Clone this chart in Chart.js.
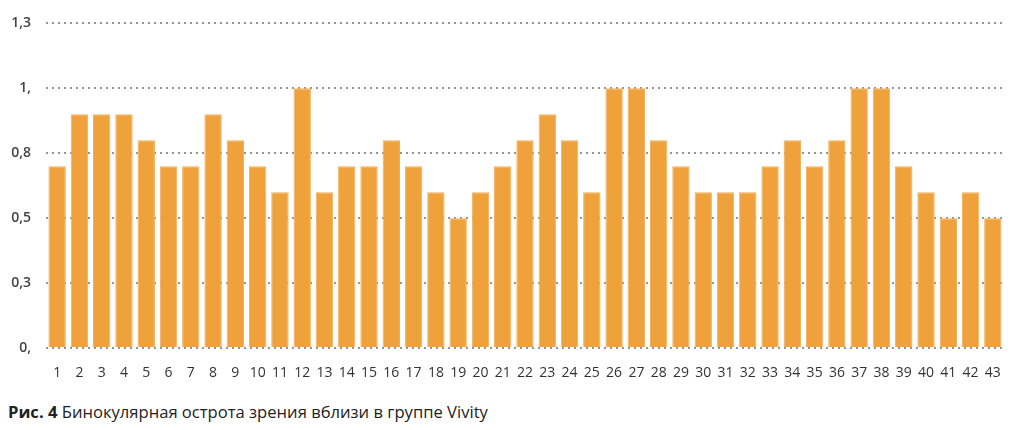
<!DOCTYPE html>
<html lang="ru">
<head>
    <meta charset="UTF-8">
    <title>Рис. 4</title>
    <script src="https://cdn.jsdelivr.net/npm/chart.js"></script>
    <style>
        body { margin: 0; background: #fff; font-family: "Open Sans", sans-serif; }
        .chart-box { position: relative; width: 1024px; height: 390px; }
        .caption { position: absolute; left: 8px; top: 400px; font-size: 16.6px; color: #222; }
        .caption b { font-weight: 700; }
    </style>
</head>
<body>
    <div class="chart-box"><canvas id="chartVivity"></canvas></div>
    <div class="caption"><b>Рис. 4</b> Бинокулярная острота зрения вблизи в группе Vivity</div>

    <script>
        // patient numbers on the x axis
        const patients = [];
        for (let i = 1; i <= 43; i++) patients.push(String(i));

        // binocular near visual acuity per patient
        const acuity = [
            0.7, 0.9, 0.9, 0.9, 0.8, 0.7, 0.7, 0.9, 0.8, 0.7,
            0.6, 1.0, 0.6, 0.7, 0.7, 0.8, 0.7, 0.6, 0.5, 0.6,
            0.7, 0.8, 0.9, 0.8, 0.6, 1.0, 1.0, 0.8, 0.7, 0.6,
            0.6, 0.6, 0.7, 0.8, 0.7, 0.8, 1.0, 1.0, 0.7, 0.6,
            0.5, 0.6, 0.5
        ];

        // y tick values and their printed labels
        const yTicks = [0, 0.25, 0.5, 0.75, 1, 1.25];
        const yTickLabels = ["0,", "0,3", "0,5", "0,8", "1,", "1,3"];

        const ctx = document.getElementById("chartVivity").getContext("2d");

        new Chart(ctx, {
            type: "bar",
            data: {
                labels: patients,
                datasets: [{
                    data: acuity,
                    backgroundColor: "#EFA23C",
                    borderColor: "#F2AF58",
                    borderWidth: 1,
                    barPercentage: 0.78,
                    categoryPercentage: 1
                }]
            },
            options: {
                responsive: true,
                maintainAspectRatio: false,
                animation: false,
                layout: { padding: { left: 0, right: 20, top: 17, bottom: 12 } },
                plugins: {
                    legend: { display: false },
                    tooltip: { enabled: false }
                },
                scales: {
                    x: {
                        grid: { display: false },
                        border: { display: false },
                        ticks: {
                            color: "#333",
                            font: { family: "Open Sans", size: 14 },
                            padding: 9,
                            maxRotation: 0,
                            autoSkip: false
                        },
                        afterFit: scale => { scale.height = 30; }
                    },
                    y: {
                        min: 0,
                        max: 1.25,
                        afterBuildTicks: scale => {
                            scale.ticks = yTicks.map(v => ({ value: v }));
                        },
                        afterFit: scale => { scale.width = 46; },
                        grid: {
                            color: "#959595",
                            lineWidth: 2,
                            drawTicks: false
                        },
                        border: { display: false, dash: [2, 4] },
                        ticks: {
                            color: "#444",
                            font: { family: "Open Sans", size: 14, weight: "600" },
                            padding: 15,
                            callback: (value, index) => yTickLabels[index]
                        }
                    }
                }
            }
        });
    </script>
</body>
</html>
